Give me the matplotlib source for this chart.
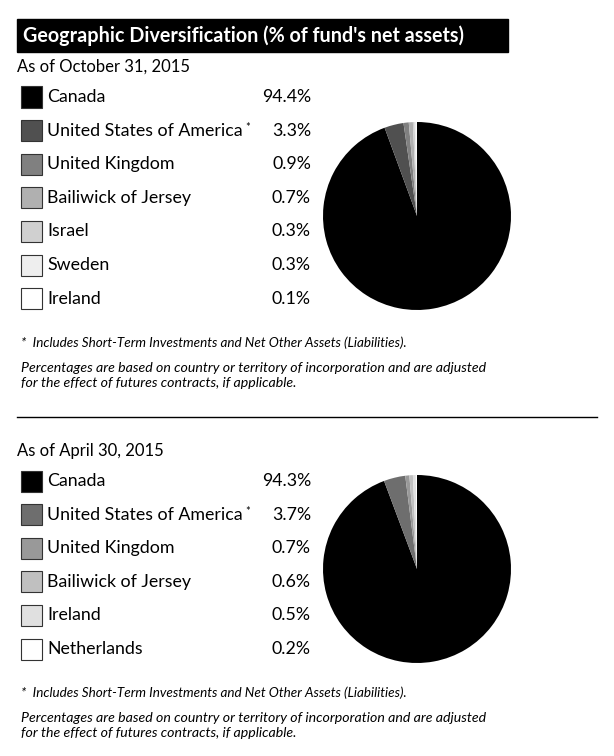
import matplotlib.pyplot as plt
from matplotlib.patches import Rectangle

W, H = 614, 756

# data
oct_labels = ['Canada', 'United States of America', 'United Kingdom', 'Bailiwick of Jersey',
              'Israel', 'Sweden', 'Ireland']
oct_values = [94.4, 3.3, 0.9, 0.7, 0.3, 0.3, 0.1]
oct_colors = ['#000000', '#505050', '#808080', '#b0b0b0', '#d0d0d0', '#eeeeee', '#ffffff']

apr_labels = ['Canada', 'United States of America', 'United Kingdom', 'Bailiwick of Jersey',
              'Ireland', 'Netherlands']
apr_values = [94.3, 3.7, 0.7, 0.6, 0.5, 0.2]
apr_colors = ['#000000', '#6e6e6e', '#999999', '#c0c0c0', '#e0e0e0', '#ffffff']

starred = 'United States of America'
footnote = '*  Includes Short-Term Investments and Net Other Assets (Liabilities).'
note = ('Percentages are based on country or territory of incorporation and are adjusted\n'
        'for the effect of futures contracts, if applicable.')

plt.rcParams['font.family'] = ['Lato', 'DejaVu Sans']

fig = plt.figure(figsize=(W / 100, H / 100), dpi=100)
renderer = fig.canvas.get_renderer()


# pixel coords -> figure coords
def fx(x):
    return x / W


def fy(y):
    return 1 - y / H


# 标题栏
fig.patches.append(Rectangle((fx(17), fy(52)), (508 - 17) / W, 33 / H,
                             transform=fig.transFigure, color='black'))
fig.text(fx(23), fy(35.5), "Geographic Diversification (% of fund's net assets)",
         color='white', fontsize=14.2, fontweight='bold', va='center')


def draw_section(top, pie_cy, date_text, labels, values, colors):
    fig.text(fx(17), fy(top), date_text, fontsize=12, va='center')
    row0 = top + 30
    step = 33.6
    for i, (lab, val, col) in enumerate(zip(labels, values, colors)):
        y = row0 + i * step
        fig.patches.append(Rectangle((fx(21), fy(y + 10.5)), 21 / W, 21 / H,
                                     transform=fig.transFigure, facecolor=col,
                                     edgecolor='#333333', linewidth=0.8))
        t = fig.text(fx(47), fy(y), lab, fontsize=12.8, va='center')
        if lab == starred:
            bb = t.get_window_extent(renderer)
            fig.text(bb.x1 / W + 3 / W, fy(y - 3), '*', fontsize=8, va='center')
        fig.text(fx(311), fy(y), f'{val:.1f}%', fontsize=12.8, va='center', ha='right')
    # pie
    r = 94
    ax = fig.add_axes([fx(417 - r), fy(pie_cy + r), 2 * r / W, 2 * r / H])
    ax.pie(values, colors=colors, startangle=90, counterclock=False,
           wedgeprops=dict(linewidth=0))
    ax.set_xlim(-1, 1)
    ax.set_ylim(-1, 1)
    ax.set_aspect('equal')
    ftop = row0 + (len(labels) - 1) * step + 44
    fig.text(fx(21), fy(ftop), footnote, fontsize=9.7, style='italic', va='center')
    fig.text(fx(21), fy(ftop + 19), note, fontsize=10.2, style='italic', va='top',
             linespacing=1.3)


draw_section(67, 216, 'As of October 31, 2015', oct_labels, oct_values, oct_colors)

# 分隔线
fig.add_artist(plt.Line2D([fx(17), fx(597)], [fy(417), fy(417)],
                          transform=fig.transFigure, color='black', linewidth=1))

draw_section(451, 569, 'As of April 30, 2015', apr_labels, apr_values, apr_colors)

fig.savefig('out.png', dpi=100)
